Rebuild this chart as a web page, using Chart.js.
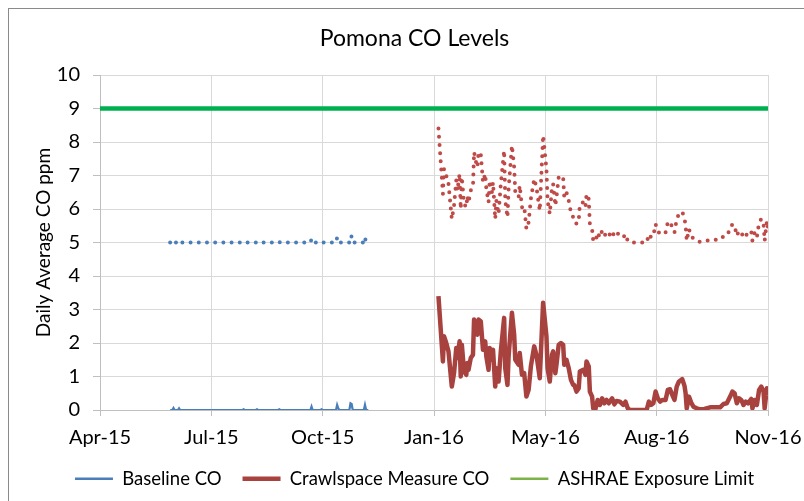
<!DOCTYPE html>
<html><head><meta charset="utf-8">
<script src="https://cdn.jsdelivr.net/npm/chart.js@4.4.1/dist/chart.umd.min.js"></script>
<style>html,body{margin:0;padding:0;background:#fff}</style>
</head><body>
<canvas id="c" width="804" height="501"></canvas>
<script>
// x values are days since 1 Apr 2015
const xTickLabels = ['Apr-15','Jul-15','Oct-15','Jan-16','May-16','Aug-16','Nov-16'];
const yTicks = [0,1,2,3,4,5,6,7,8,9,10];

const baselineDays = [63,65,66,67,70,71,72,128,129,130,140,141,142,160,161,162,189,190,191,198,199,200,212,213,214,215,224,225,226,227,237,238,239,241];
const baselineCO = [0,0,0.06,0,0,0.05,0,0,0.02,0,0,0.02,0,0,0.02,0,0,0.1,0,0,0.02,0,0,0.15,0.05,0,0,0.2,0.18,0,0,0.15,0,0];
const baselineDotted = [5,5,5.06,5,5,5.05,5,5,5.02,5,5,5.02,5,5,5.02,5,5,5.1,5,5,5.02,5,5,5.15,5.05,5,5,5.2,5.18,5,5,5.15,5,5];

const crawlDays = [304,308,309,311,313,316,318,320,321,323,
  324,325,327,329,330,331,333,335,336,338,
  339,340,342,344,346,347,349,350,352,353,
  355,356,358,360,363,364,366,367,370,372,
  373,376,377,379,381,383,385,387,390,392,
  395,398,401,402,404,406,407,409,410,412,
  414,416,417,419,421,423,425,426,428,430,
  431,434,436,437,439,440,442,443,445,447,
  449,451,453,455,457,460,462,464,467,470,
  472,474,476,491,493,495,497,499,501,503,
  505,508,510,512,514,516,518,520,523,525,
  526,527,529,531,533,536,539,543,548,552,
  557,560,563,566,568,570,572,574,576,578,
  580,582,585,586,588,590,592,594,596,597,
  599,600];
const crawlCO = [3.4,1.45,2.2,2.0,1.75,0.7,1.1,1.85,1.55,2.05,
  1.0,1.95,1.15,1.05,1.4,1.2,1.55,1.65,2.7,2.35,
  2.25,2.7,2.65,1.8,2.05,1.6,1.2,1.85,1.5,1.8,
  0.7,1.25,0.85,1.75,2.75,1.25,0.75,1.6,2.9,2.25,
  1.5,1.35,1.7,1.05,1.1,0.4,0.6,1.3,1.9,1.65,
  0.95,3.2,2.2,1.25,0.85,1.65,1.75,1.1,1.35,1.95,
  2.0,1.95,1.35,1.5,1.25,0.9,0.75,0.75,0.55,0.65,
  1.15,1.2,1.05,1.45,1.3,0.55,0.4,0.05,0.03,0.3,
  0.15,0.35,0.2,0.3,0.2,0.35,0.17,0.27,0.25,0.15,
  0.25,0.05,0,0,0.25,0.15,0.2,0.55,0.35,0.25,
  0.3,0.3,0.6,0.62,0.45,0.3,0.7,0.85,0.92,0.72,
  0.5,0.05,0.4,0.22,0.1,0.05,0.02,0.03,0.08,0.08,
  0.08,0.18,0.2,0.4,0.55,0.5,0.2,0.35,0.3,0.15,
  0.25,0.2,0.33,0.05,0.3,0.15,0.6,0.7,0.55,0.05,
  0.65,0.45];
const crawlDotted = [8.4,6.45,7.2,7.0,6.75,5.7,6.1,6.85,6.55,7.05,
  6.0,6.95,6.15,6.05,6.4,6.2,6.55,6.65,7.7,7.35,
  7.25,7.7,7.65,6.8,7.05,6.6,6.2,6.85,6.5,6.8,
  5.7,6.25,5.85,6.75,7.75,6.25,5.75,6.6,7.9,7.25,
  6.5,6.35,6.7,6.05,6.1,5.4,5.6,6.3,6.9,6.65,
  5.95,8.2,7.2,6.25,5.85,6.65,6.75,6.1,6.35,6.95,
  7.0,6.95,6.35,6.5,6.25,5.9,5.75,5.75,5.55,5.65,
  6.15,6.2,6.05,6.45,6.3,5.55,5.4,5.05,5.03,5.3,
  5.15,5.35,5.2,5.3,5.2,5.35,5.17,5.27,5.25,5.15,
  5.25,5.05,5,5,5.25,5.15,5.2,5.55,5.35,5.25,
  5.3,5.3,5.6,5.62,5.45,5.3,5.7,5.85,5.92,5.72,
  5.5,5.05,5.4,5.22,5.1,5.05,5.02,5.03,5.08,5.08,
  5.08,5.18,5.2,5.4,5.55,5.5,5.2,5.35,5.3,5.15,
  5.25,5.2,5.33,5.05,5.3,5.15,5.6,5.7,5.55,5.05,
  5.65,5.45];

const ashraeDays = [0,600];
const ashraeLimit = [9,9];

const toPts = (days, vals) => days.map((d, i) => ({x: d, y: vals[i]}));
const FONT = 'Lato';

const frame = {
  id: 'frame',
  beforeDraw(chart) {
    const c = chart.ctx;
    c.save();
    c.fillStyle = '#fff';
    c.fillRect(0, 0, chart.width, chart.height);
    c.strokeStyle = '#8a8a8a';
    c.lineWidth = 1;
    c.strokeRect(8.5, 8.5, chart.width + 20, chart.height + 20);
    c.restore();
  }
};

const legendStyles = [
  {color: '#4A7EBB', width: 2.5},
  {color: '#A8423F', width: 4.5},
  {color: '#7DB24A', width: 2.5}
];

new Chart(document.getElementById('c'), {
  type: 'line',
  data: {
    datasets: [
      {label: 'Baseline CO', data: toPts(baselineDays, baselineCO), borderColor: '#4A7EBB', borderWidth: 2.25, pointRadius: 0, tension: 0},
      {label: 'Crawlspace Measure CO', data: toPts(crawlDays, crawlCO), borderColor: '#A8423F', borderWidth: 4.5, pointRadius: 0, tension: 0, borderJoinStyle: 'round'},
      {label: 'ASHRAE Exposure Limit', data: toPts(ashraeDays, ashraeLimit), borderColor: '#00B050', borderWidth: 4.5, pointRadius: 0, tension: 0},
      {label: 'Baseline CO dotted', data: toPts(baselineDays, baselineDotted), borderColor: '#4A7EBB', borderWidth: 4, borderDash: [0, 8.2], borderCapStyle: 'round', pointRadius: 0, tension: 0},
      {label: 'Crawlspace dotted', data: toPts(crawlDays, crawlDotted), borderColor: '#BF4A47', borderWidth: 4, borderDash: [0, 8.2], borderCapStyle: 'round', pointRadius: 0, tension: 0}
    ]
  },
  options: {
    responsive: false,
    animation: false,
    devicePixelRatio: 1,
    layout: {padding: {left: 25, right: 0, top: 0, bottom: 3}},
    plugins: {
      title: {display: true, text: 'Pomona CO Levels', color: '#000', font: {family: FONT, size: 23, weight: 'normal'}, padding: {top: 25, bottom: 22.4}},
      legend: {
        position: 'bottom',
        align: 'center',
        labels: {
          usePointStyle: true,
          pointStyleWidth: 38,
          padding: 21,
          color: '#000',
          font: {family: FONT, size: 18.5},
          generateLabels(chart) {
            return chart.data.datasets.slice(0, 3).map((ds, i) => ({
              text: ds.label,
              strokeStyle: legendStyles[i].color,
              fillStyle: legendStyles[i].color,
              lineWidth: legendStyles[i].width,
              pointStyle: 'line',
              hidden: false,
              datasetIndex: i,
              fontColor: '#000'
            }));
          }
        }
      },
      tooltip: {enabled: false}
    },
    scales: {
      x: {
        type: 'linear',
        min: 0,
        max: 600,
        afterFit(s) { s.paddingRight = 36; s.paddingLeft = 0; s.height = 38.5; },
        ticks: {stepSize: 100, autoSkip: false, maxRotation: 0, padding: 10, color: '#000', font: {family: FONT, size: 20},
          callback: (v) => xTickLabels[Math.round(v / 100)]},
        grid: {color: '#d9d9d9', lineWidth: 1, tickLength: 6, tickColor: '#bfbfbf'},
        border: {color: '#bfbfbf'}
      },
      y: {
        min: 0,
        max: 10,
        afterFit(s) { s.width = 75; },
        afterBuildTicks(s) { s.ticks = yTicks.map(v => ({value: v})); },
        ticks: {stepSize: 1, padding: 13, color: '#000', font: {family: FONT, size: 20}},
        grid: {color: '#d9d9d9', lineWidth: 1, tickLength: 7, tickColor: '#bfbfbf'},
        border: {color: '#bfbfbf'},
        title: {display: true, text: 'Daily Average CO ppm', color: '#000', font: {family: FONT, size: 19}, padding: {top: 7, bottom: 0}}
      }
    }
  },
  plugins: [frame]
});
</script>
</body></html>
